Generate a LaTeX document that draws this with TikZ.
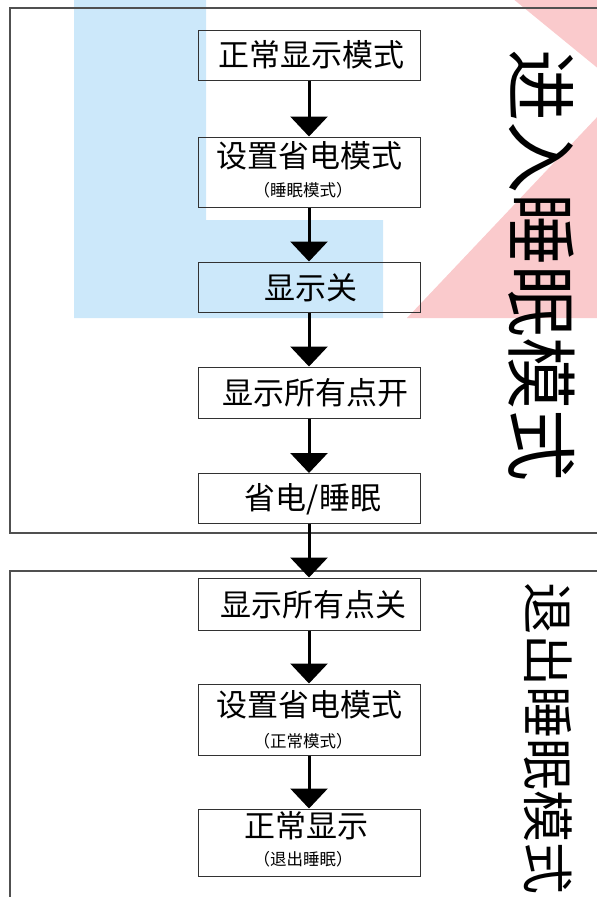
\documentclass[tikz,border=0pt]{standalone}
\usepackage{fontspec}
\newfontfamily\cjk{Noto Sans CJK SC}
\usetikzlibrary{arrows.meta}
\definecolor{bgblue}{RGB}{204,232,250}
\definecolor{bgpink}{RGB}{250,202,204}
\definecolor{framegray}{RGB}{80,80,80}
\definecolor{boxgray}{RGB}{50,50,50}
\tikzset{
  stepbox/.style={draw=boxgray, line width=1pt, minimum width=222pt, inner sep=0pt},
  maintext/.style={font=\cjk\fontsize{31}{34}\selectfont, inner sep=0pt},
  subtext/.style={font=\cjk\fontsize{16.5}{18}\selectfont, inner sep=0pt},
  flow/.style={line width=3pt, -{Triangle[width=37pt,length=20pt]}},
  frameline/.style={draw=framegray, line width=1.3pt},
  sidetext/.style={font=\cjk, rotate=-90, inner sep=0pt}
}
\begin{document}
\begin{tikzpicture}[x=1pt,y=-1pt]
\useasboundingbox (0,0) rectangle (597,897);
\begin{scope}
\clip (0,0) rectangle (597,897);
% background shapes
\fill[bgblue] (74,-2) -- (206,-2) -- (206,220) -- (383,220) -- (383,318) -- (74,318) -- cycle;
\fill[bgpink] (512,-2) -- (600,-2) -- (600,70) -- cycle;
\fill[bgpink] (407,318) -- (600,114) -- (600,318) -- cycle;
% frames
\draw[frameline] (600,8) -- (10,8) -- (10,533) -- (600,533);
\draw[frameline] (600,571) -- (10,571) -- (10,900);
% boxes
\node[stepbox, minimum height=50pt] (b1) at (309,55) {};
\node[maintext] at (311,55) {正常显示模式};
\node[stepbox, minimum height=70pt] (b2) at (309,172) {};
\node[maintext] at (309,156) {设置省电模式};
\node[subtext] at (303,190) {（睡眠模式）};
\node[stepbox, minimum height=50pt] (b3) at (309,287) {};
\node[maintext] at (311,288) {显示关};
\node[stepbox, minimum height=51pt] (b4) at (309,392.5) {};
\node[maintext] at (315,393) {显示所有点开};
\node[stepbox, minimum height=50pt] (b5) at (309,498.5) {};
\node[maintext] at (313,499) {省电/睡眠};
\node[stepbox, minimum height=52pt] (b6) at (309,604) {};
\node[maintext] at (313,605) {显示所有点关};
\node[stepbox, minimum height=71pt] (b7) at (309,719.5) {};
\node[maintext] at (309,705) {设置省电模式};
\node[subtext] at (303,741) {（正常模式）};
\node[stepbox, minimum height=67pt] (b8) at (309,842.5) {};
\node[maintext] at (306,826) {正常显示};
\node[subtext] at (303,859) {（退出睡眠）};
% connectors
\draw[flow] (b1.south) -- (b2.north);
\draw[flow] (b2.south) -- (b3.north);
\draw[flow] (b3.south) -- (b4.north);
\draw[flow] (b4.south) -- (b5.north);
\draw[flow] (b5.south) -- (b6.north);
\draw[flow] (b6.south) -- (b7.north);
\draw[flow] (b7.south) -- (b8.north);
% side texts
\node[sidetext, font=\cjk\fontsize{72}{72}\selectfont] (s1) at (542,265) {进入睡眠模式};
\node[sidetext, font=\cjk\fontsize{52}{52}\selectfont] (s2) at (548,738) {退出睡眠模式};
\end{scope}
\end{tikzpicture}
\end{document}
